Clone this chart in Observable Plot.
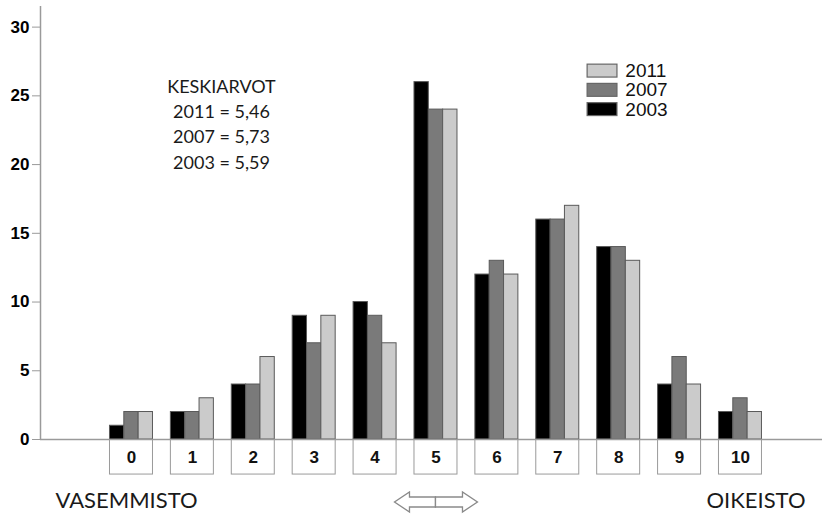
<!DOCTYPE html>
<html>
<head>
<meta charset="utf-8">
<script src="https://cdn.jsdelivr.net/npm/d3@7"></script>
<script src="https://cdn.jsdelivr.net/npm/@observablehq/plot@0.6"></script>
<style>
  html, body { margin: 0; padding: 0; background: #fff; }
  #chart svg { display: block; }
</style>
</head>
<body>
<div id="chart"></div>
<script>
// ---- data ----
const categories = [0, 1, 2, 3, 4, 5, 6, 7, 8, 9, 10];
const years = ["2003", "2007", "2011"];
const v2003 = [1, 2, 4, 9, 10, 26, 12, 16, 14, 4, 2];
const v2007 = [2, 2, 4, 7, 9, 24, 13, 16, 14, 6, 3];
const v2011 = [2, 3, 6, 9, 7, 24, 12, 17, 13, 4, 2];
const yTicks = [0, 5, 10, 15, 20, 25, 30];
const meansTitle = "KESKIARVOT";
const meanLines = ["2011 = 5,46", "2007 = 5,73", "2003 = 5,59"];
const legendOrder = ["2011", "2007", "2003"];
const leftLabel = "VASEMMISTO";
const rightLabel = "OIKEISTO";

// ---- styles ----
const fills = {"2003": "#000000", "2007": "#7a7a7a", "2011": "#cbcbcb"};
const XMIN = -1.494, XMAX = 11.347;
const GROUP = 0.706;            // group width in category units
const BAR = GROUP / years.length;

const series = {"2003": v2003, "2007": v2007, "2011": v2011};
const table = [];
categories.forEach((c, i) => {
  years.forEach((yr, k) => table.push({cat: c, year: yr, k, value: series[yr][i]}));
});

const legendItems = legendOrder.map((yr, i) => ({year: yr, row: i}));
const legendY = [26.8, 25.4, 24.0];

const arrowMark = (index, scales, values, dims) => {
  const cx = scales.x(5);
  const cy = dims.height - dims.marginBottom + 63;
  const g = d3.create("svg:g").attr("fill", "#fff").attr("stroke", "#8a8a8a").attr("stroke-width", 1.3);
  g.append("path").attr("d",
    `M${cx},${cy-5} L${cx-26},${cy-5} L${cx-26},${cy-10} L${cx-41},${cy} L${cx-26},${cy+10} L${cx-26},${cy+5} L${cx},${cy+5} Z`);
  g.append("path").attr("d",
    `M${cx},${cy-5} L${cx+27},${cy-5} L${cx+27},${cy-10} L${cx+42},${cy} L${cx+27},${cy+10} L${cx+27},${cy+5} L${cx},${cy+5} Z`);
  return g.node();
};

const chart = Plot.plot({
  width: 822,
  height: 514,
  marginLeft: 40,
  marginRight: 0,
  marginTop: 6,
  marginBottom: 75,
  style: {fontFamily: "Liberation Sans, Arial, sans-serif", background: "#fff"},
  x: {domain: [XMIN, XMAX], axis: null},
  y: {domain: [0, 31.5], axis: null},
  marks: [
    // category boxes below the axis
    Plot.rect(categories, {
      x1: d => d - GROUP / 2, x2: d => d + GROUP / 2, y1: 0, y2: -2.55,
      fill: "#fff", stroke: "#9a9a9a", strokeWidth: 1
    }),
    Plot.text(categories, {
      x: d => d, y: -1.3, text: d => String(d),
      fontSize: 17, fontWeight: "bold", fill: "#111"
    }),
    // bars
    Plot.rect(table, {
      x1: d => d.cat - GROUP / 2 + d.k * BAR,
      x2: d => d.cat - GROUP / 2 + (d.k + 1) * BAR,
      y1: 0, y2: "value",
      fill: d => fills[d.year], stroke: "#5a5a5a", strokeWidth: 1
    }),
    // axes lines
    Plot.ruleY([0], {stroke: "#9a9a9a", strokeWidth: 1.5}),
    Plot.ruleX([XMIN], {stroke: "#9a9a9a", strokeWidth: 1.5}),
    Plot.axisY({
      ticks: yTicks, tickSize: 8, label: null, tickFormat: () => "",
      stroke: "#9a9a9a"
    }),
    Plot.text(yTicks, {
      x: XMIN, y: d => d, dx: -11, text: d => String(d), textAnchor: "end",
      fontSize: 17, fontWeight: "bold", fill: "#000"
    }),
    // means annotation
    Plot.text([[meansTitle, ...meanLines].join("\n")], {
      frameAnchor: "top-left", dx: 181, dy: 116, lineAnchor: "middle",
      textAnchor: "middle", fontSize: 18, lineHeight: 1.41,
      fontFamily: "Lato, sans-serif", fill: "#1a1a1a"
    }),
    // legend
    Plot.rect(legendItems, {
      x1: 7.49, x2: 7.98,
      y1: d => legendY[d.row] - 0.47, y2: d => legendY[d.row] + 0.47,
      fill: d => fills[d.year], stroke: "#666", strokeWidth: 1.2
    }),
    Plot.text(legendItems, {
      x: 8.11, y: d => legendY[d.row], text: "year",
      textAnchor: "start", fontSize: 19, fill: "#111"
    }),
    // bottom labels
    Plot.text([leftLabel], {
      frameAnchor: "bottom-left", dx: 15, dy: 61, textAnchor: "start",
      lineAnchor: "middle", fontSize: 22, fontFamily: "Lato, sans-serif", fill: "#1a1a1a"
    }),
    Plot.text([rightLabel], {
      frameAnchor: "bottom-right", dx: -17, dy: 61, textAnchor: "end",
      lineAnchor: "middle", fontSize: 22, fontFamily: "Lato, sans-serif", fill: "#1a1a1a"
    }),
    arrowMark
  ]
});
document.getElementById("chart").appendChild(chart);
</script>
</body>
</html>
